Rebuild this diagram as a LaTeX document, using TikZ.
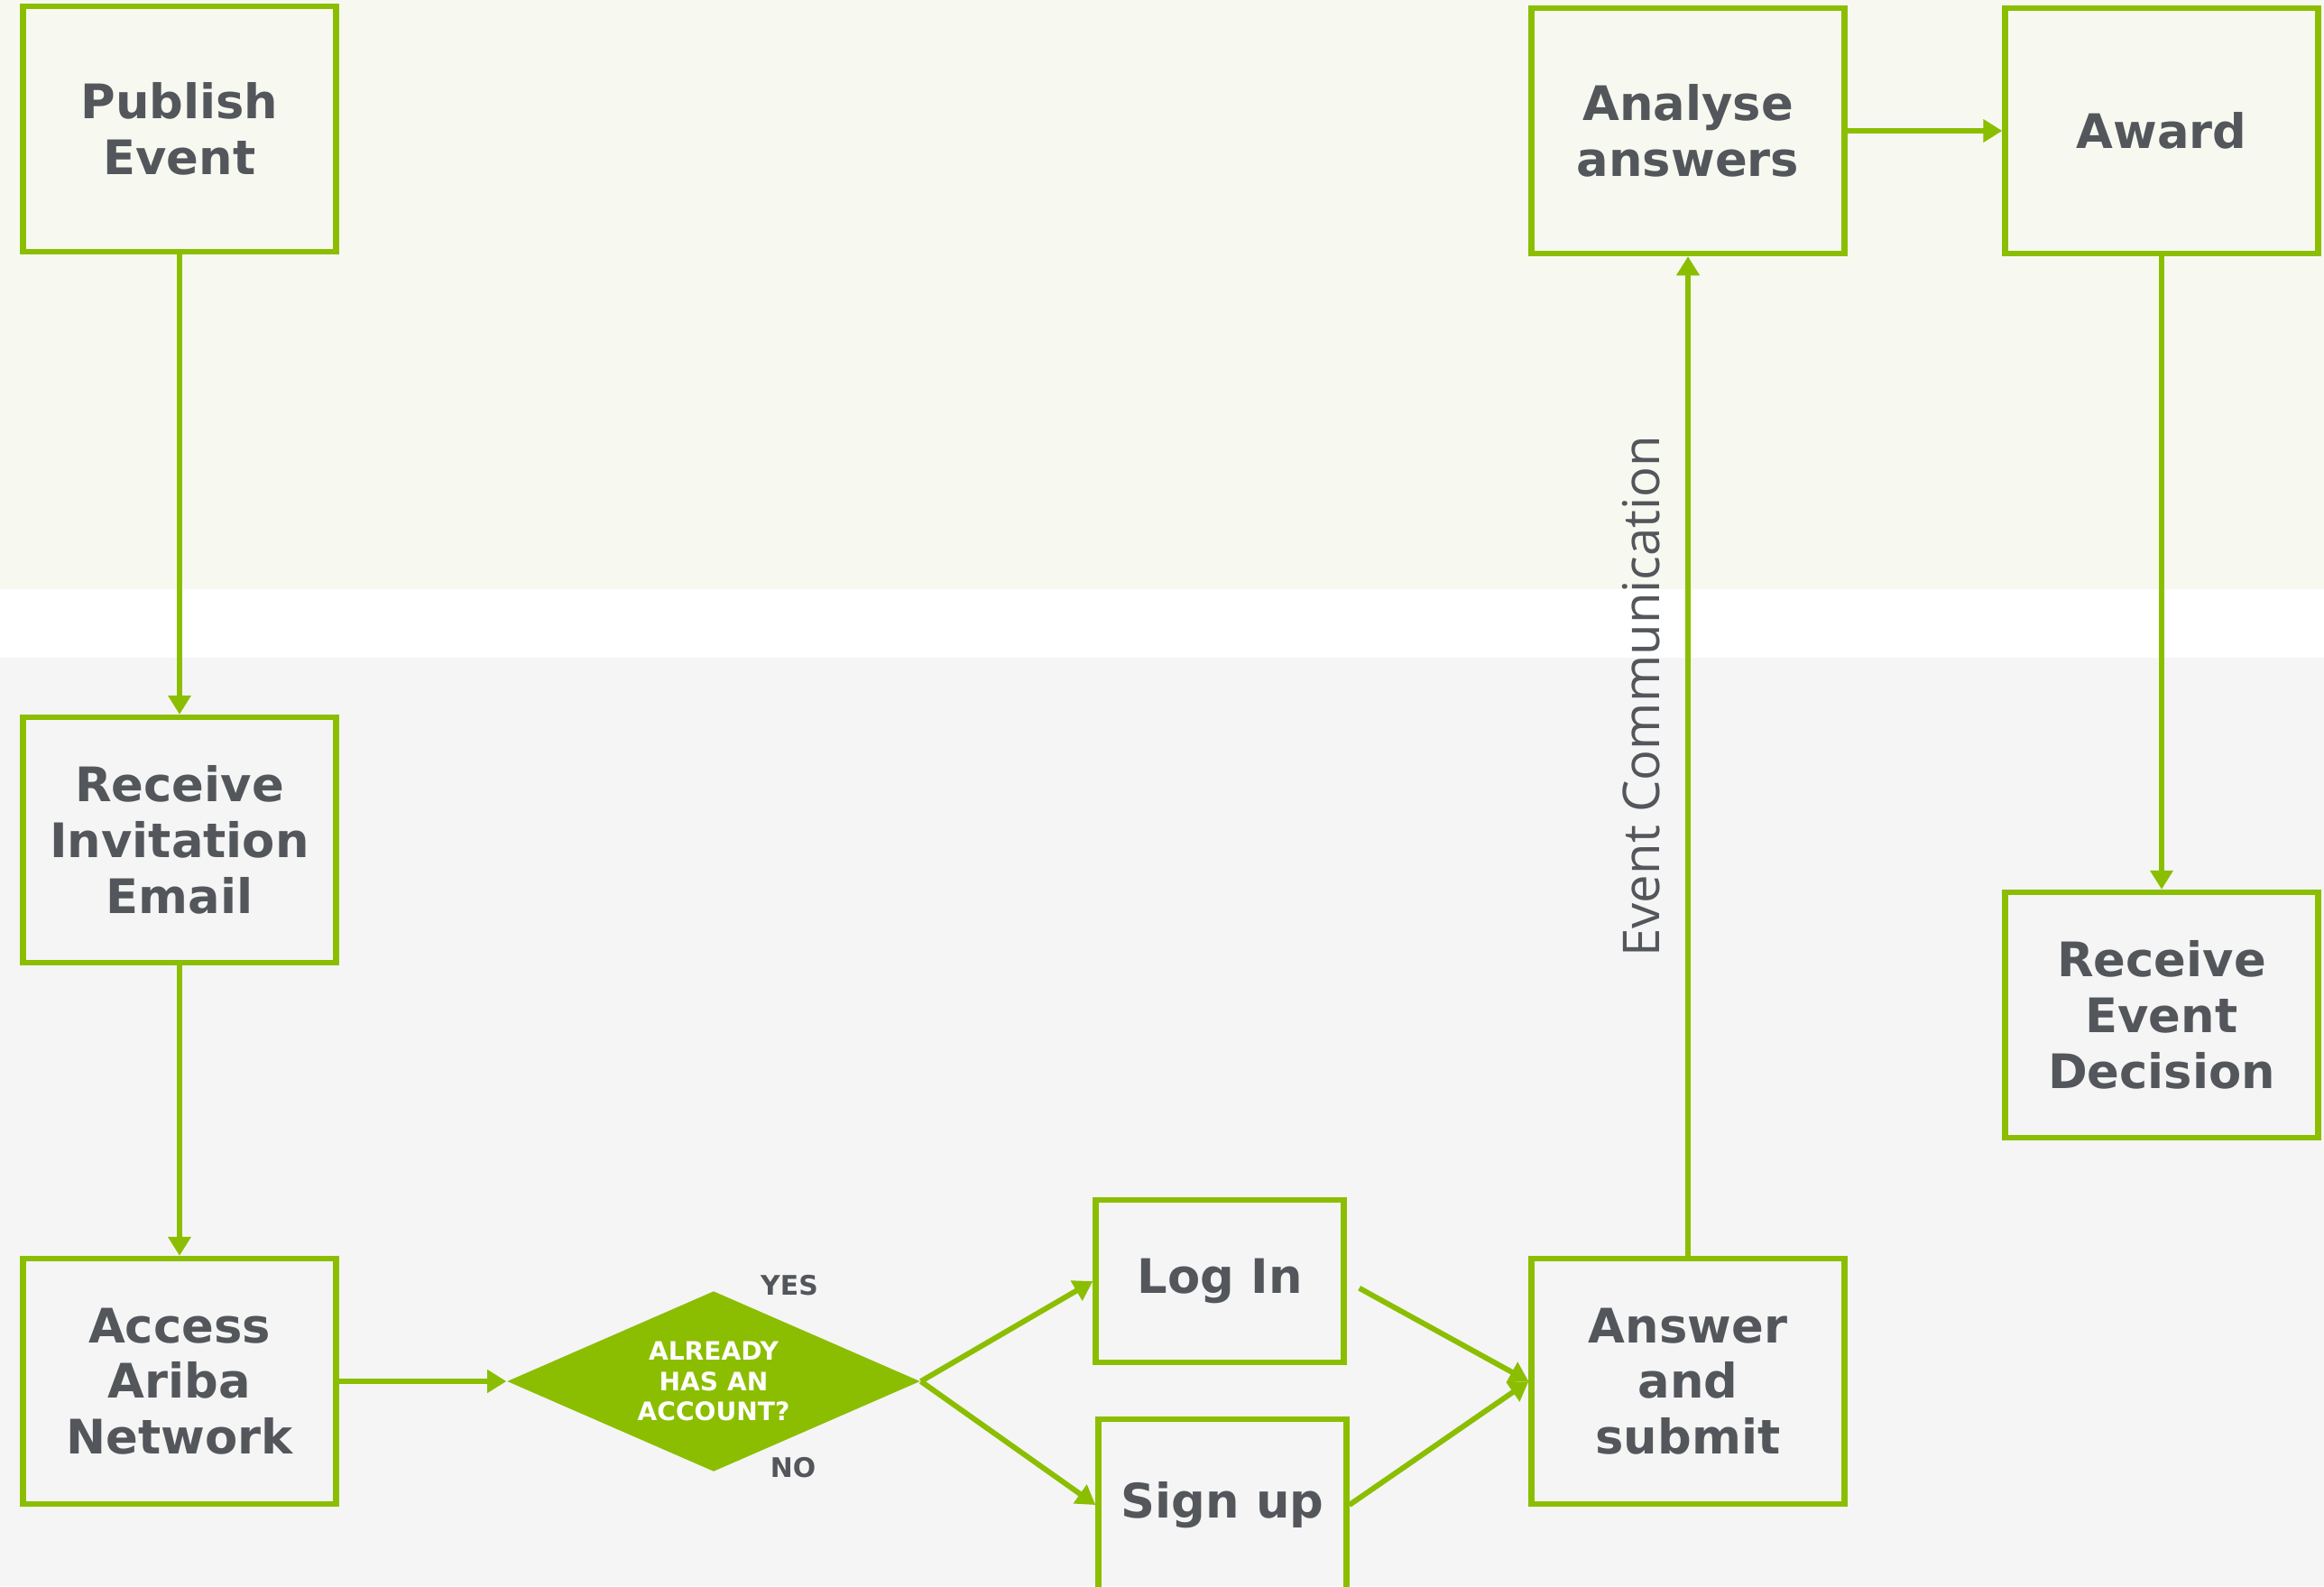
\documentclass[tikz,border=0pt]{standalone}
\usepackage{fontspec}
\usepackage{xcolor}
\usepackage{tikz}
\usetikzlibrary{shapes.geometric,arrows.meta}

\setmainfont{DejaVu Sans}
\newfontfamily\commfont{Open Sans}

\definecolor{leaf}{HTML}{8BBE00}
\definecolor{slate}{HTML}{53565A}
\definecolor{topband}{HTML}{F7F9F1}
\definecolor{lowband}{HTML}{F5F5F5}

\newcommand{\stagefont}{\bfseries\fontsize{15pt}{17.6pt}\selectfont}

\begin{document}
\begin{tikzpicture}[node distance=6cm, >={Triangle[length=6pt,width=7pt]},
  stage/.style={rectangle, minimum width=3.47cm, minimum height=2.72cm, text centered, align=center, draw=leaf, line width=1.8pt, text=slate, font=\stagefont},
  small stage/.style={stage, minimum width=2.75cm, minimum height=1.8cm},
  choice/.style={diamond, aspect=2.29, minimum width=4.58cm, minimum height=2cm, inner sep=0pt, fill=leaf, text=white, align=center, font=\bfseries\fontsize{8pt}{9.5pt}\selectfont},
  answer/.style={text=slate, font=\bfseries\fontsize{8.5pt}{10pt}\selectfont},
  flow/.style={->, draw=leaf, line width=1.7pt}]
\useasboundingbox (0,0) rectangle (25.76,-17.58);
\clip (0,0) rectangle (25.76,-17.58);

% background bands
\fill[topband] (0,0) rectangle (25.76,-6.53);
\fill[lowband] (0,-7.29) rectangle (25.76,-17.58);

\node (pub) [stage] at (1.99,-1.43) {Publish\\Event};
\node (inv) [stage, below of=pub, yshift=-1.88cm] {Receive\\Invitation\\Email};
\node (acc) [stage, below of=inv] {Access\\Ariba\\Network};
\node (acct) [choice, right of=acc, xshift=-0.08cm] {ALREADY\\HAS AN\\ACCOUNT?};
\node (yes) [answer] at (8.75,-14.25) {YES};
\node (no) [answer] at (8.79,-16.27) {NO};
\node (login) [small stage, right of=acct, xshift=-0.39cm, yshift=1.11cm] {Log In};
\node (signup) [small stage, minimum height=1.9cm, right of=acct, xshift=-0.36cm, yshift=-1.37cm] {Sign up};
\node (submit) [stage, right of=acct, xshift=4.8cm] {Answer\\and\\submit};
\node (analyse) [stage, above of=submit, yshift=7.86cm] {Analyse\\answers};
\node (award) [stage, right of=analyse, xshift=-0.75cm] {Award};
\node (decision) [stage, below of=award, yshift=-3.8cm] {Receive\\Event\\Decision};

\draw[flow] (pub) -- (inv);
\draw[flow] (inv) -- (acc);
\draw[flow] (acc) -- (acct);
\draw[flow] (acct.east) -- (login.west);
\draw[flow] (acct.east) -- (signup.west);
\draw[flow, shorten <=1.6mm] (login.east) -- (submit.west);
\draw[flow] (signup.east) -- (submit.west);
\draw[flow] (submit) -- node[pos=0.56, above=1.6mm, sloped, text=slate, font=\commfont\fontsize{16pt}{19pt}\selectfont] {Event Communication} (analyse);
\draw[flow] (analyse) -- (award);
\draw[flow] (award) -- (decision);
\end{tikzpicture}
\end{document}
